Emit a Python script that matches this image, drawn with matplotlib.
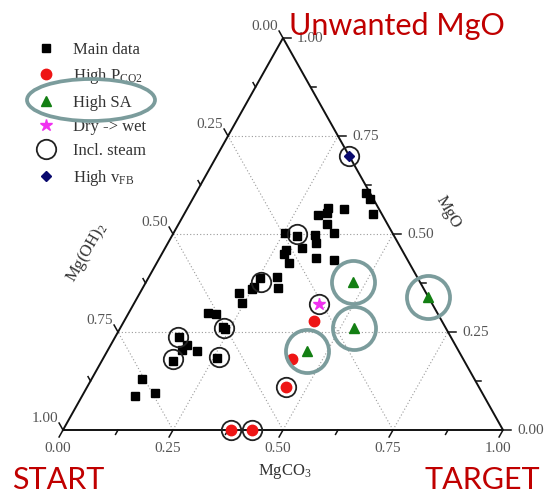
import numpy as np
import matplotlib
matplotlib.use('Agg')
import matplotlib.pyplot as plt
from matplotlib.patches import Ellipse

plt.rcParams['font.family'] = 'Liberation Serif'
plt.rcParams['mathtext.fontset'] = 'custom'
plt.rcParams['mathtext.rm'] = 'Liberation Serif'
plt.rcParams['mathtext.it'] = 'Liberation Serif:italic'
plt.rcParams['mathtext.default'] = 'regular'

# compositions as fractions (MgCO3, MgO); Mg(OH)2 is the remainder
main_mgco3 = [0.387, 0.403, 0.428, 0.358, 0.320, 0.322, 0.306, 0.338, 0.364, 0.324,
              0.337, 0.254, 0.283, 0.311, 0.277, 0.278, 0.302, 0.356, 0.399, 0.254,
              0.292, 0.250, 0.251, 0.308, 0.224, 0.245, 0.181, 0.199, 0.232, 0.240,
              0.146, 0.174, 0.168, 0.203, 0.162, 0.259, 0.114, 0.162, 0.121]
main_mgo = [0.604, 0.589, 0.551, 0.563, 0.566, 0.554, 0.549, 0.526, 0.503, 0.497,
            0.476, 0.502, 0.496, 0.465, 0.459, 0.449, 0.425, 0.438, 0.434, 0.387,
            0.390, 0.366, 0.359, 0.362, 0.350, 0.323, 0.299, 0.296, 0.262, 0.257,
            0.236, 0.217, 0.204, 0.202, 0.177, 0.184, 0.130, 0.094, 0.087]

pco2_mgco3 = [0.432, 0.431, 0.451, 0.381, 0.429]
pco2_mgo = [0.279, 0.180, 0.110, 0.0, 0.0]

sa_mgco3 = [0.471, 0.532, 0.454, 0.660]
sa_mgo = [0.378, 0.259, 0.202, 0.340]

wet_mgco3 = [0.421]
wet_mgo = [0.321]

steam_mgco3 = [0.300, 0.283, 0.262, 0.237, 0.143, 0.160, 0.261, 0.421, 0.451, 0.381, 0.429]
steam_mgo = [0.700, 0.499, 0.377, 0.259, 0.238, 0.180, 0.186, 0.321, 0.110, 0.0, 0.0]

vfb_mgco3 = [0.300]
vfb_mgo = [0.700]

GRID_VALS = [0.25, 0.50, 0.75]
MAJOR = [0.0, 0.25, 0.50, 0.75, 1.0]
MINOR = [0.125, 0.375, 0.625, 0.875]

RED_TXT = '#c00000'
TEAL = '#7b9c9c'
TICK_C = '#555555'

W, H = 555, 495
PX_X, PX_Y = 440.0, 392.0      # pixels per unit of x and of height


def to_xy(mgco3, mgo):
    a = np.asarray(mgco3, float)
    c = np.asarray(mgo, float)
    return a + c / 2, c


fig = plt.figure(figsize=(W / 100, H / 100), dpi=100)
fig.patch.set_facecolor('white')
ax = fig.add_axes([0, 0, 1, 1])
ax.set_xlim(-63 / PX_X, (W - 63) / PX_X)
ax.set_ylim(-65 / PX_Y, (H - 65) / PX_Y)
ax.axis('off')

# dotted grid for the three components
for v in GRID_VALS:
    gk = dict(color='#9a9a9a', lw=0.8, ls=(0, (1, 2)), zorder=1)
    ax.plot([v / 2, 1 - v / 2], [v, v], **gk)                     # MgO const
    ax.plot([v, v + (1 - v) / 2], [0, 1 - v], **gk)               # MgCO3 const
    ax.plot([1 - v, (1 - v) / 2], [0, 1 - v], **gk)               # Mg(OH)2 const

# triangle frame
ax.plot([0, 1, 0.5, 0], [0, 0, 1, 0], color='#111111', lw=1.4, zorder=2,
        solid_joinstyle='miter')


def tick(p, d, length):
    dx, dy = d
    n = np.hypot(dx, dy)
    ex = p[0] + dx / n * length / PX_X
    ey = p[1] + dy / n * length / PX_Y
    ax.plot([p[0], ex], [p[1], ey], color='#111111', lw=1.1, zorder=2)


for vals, L in ((MAJOR, 8), (MINOR, 5)):
    for t in vals:
        tick((t, 0), (-220, -392), L)                 # bottom: MgCO3
        tick((1 - t / 2, t), (1, 0), L)               # right: MgO
        tick(((1 - t) / 2, 1 - t), (-220, 392), L)    # left: Mg(OH)2

tk = dict(textcoords='offset pixels', color=TICK_C, fontsize=11, va='center')
for t in MAJOR:
    lab = f'{t:.2f}'
    ax.annotate(lab, (t, 0), xytext=(-5, -19), ha='center', **tk)
    ax.annotate(lab, (1 - t / 2, t), xytext=(14, 0), ha='left', **tk)
    ax.annotate(lab, ((1 - t) / 2, 1 - t), xytext=(-5, 12), ha='right', **tk)

ax.text(0.5045, -0.105, 'MgCO$_3$', ha='center', va='center', fontsize=12, color='#333333')
ax.text(0.055, 0.452, 'Mg(OH)$_2$', ha='center', va='center', fontsize=12,
        color='#333333', rotation=60)
ax.text(0.875, 0.556, 'MgO', ha='center', va='center', fontsize=12,
        color='#333333', rotation=-60)

# data series
x, y = to_xy(main_mgco3, main_mgo)
ax.plot(x, y, 's', color='black', ms=6, ls='none', zorder=4, label='Main data')
x, y = to_xy(pco2_mgco3, pco2_mgo)
ax.plot(x, y, 'o', color='#ee1515', mec='#ee1515', ms=7.5, ls='none', zorder=4,
        label='High P$_{CO2}$')
x, y = to_xy(sa_mgco3, sa_mgo)
ax.plot(x, y, '^', color='#137f13', mec='#137f13', ms=7.5, ls='none', zorder=4,
        label='High SA')
x, y = to_xy(wet_mgco3, wet_mgo)
ax.plot(x, y, '*', color='#f030f0', mec='#f030f0', ms=9, ls='none', zorder=4,
        label='Dry -> wet')
x, y = to_xy(steam_mgco3, steam_mgo)
ax.plot(x, y, 'o', mfc='none', mec='#222222', mew=1.3, ms=14, ls='none', zorder=5,
        label='Incl. steam')
x, y = to_xy(vfb_mgco3, vfb_mgo)
ax.plot(x, y, 'D', color='#0a0a6e', mec='#0a0a6e', ms=5.5, ls='none', zorder=4,
        label='High v$_{FB}$')

# highlight rings around the high surface-area runs
x, y = to_xy(sa_mgco3, sa_mgo)
ax.plot(x, y, 'o', mfc='none', mec=TEAL, mew=2.7, ms=31, ls='none', zorder=6)

leg = ax.legend(loc='upper left', bbox_to_anchor=(36 / W, 1 - 42 / H),
                bbox_transform=fig.transFigure, frameon=False, fontsize=12,
                handlelength=1.2, handletextpad=1.0, labelspacing=0.5,
                borderpad=0, borderaxespad=0, numpoints=1)
for t in leg.get_texts():
    t.set_color('#333333')

ax.add_patch(Ellipse(((91 - 63) / PX_X, (430 - 100) / PX_Y), 128 / PX_X, 42 / PX_Y,
                     fill=False, ec=TEAL, lw=2.7, zorder=6))

fig.text(289 / W, 1 - 35 / H, 'Unwanted MgO', color=RED_TXT, fontsize=22,
         family='Lato', ha='left', va='baseline')
fig.text(12 / W, 1 - 489 / H, 'START', color=RED_TXT, fontsize=22,
         family='Lato', ha='left', va='baseline')
fig.text(540 / W, 1 - 489 / H, 'TARGET', color=RED_TXT, fontsize=22,
         family='Lato', ha='right', va='baseline')

fig.savefig('out.png', dpi=100, facecolor='white')
